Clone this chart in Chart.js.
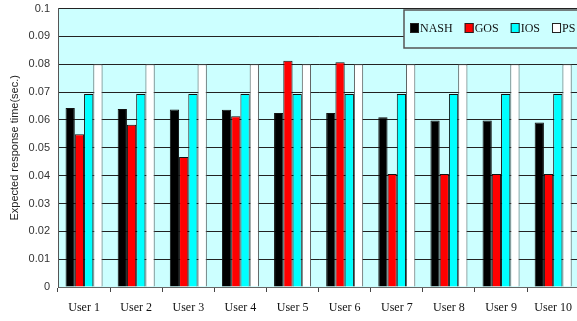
<!DOCTYPE html>
<html>
<head>
<meta charset="utf-8">
<script src="https://cdn.jsdelivr.net/npm/chart.js@4.4.1/dist/chart.umd.min.js"></script>
<style>
  html, body { margin: 0; padding: 0; background: #fff; overflow: hidden; }
  #wrap { width: 577px; height: 321px; overflow: hidden; position: relative; }
  #box { width: 581px; height: 321px; position: absolute; left: 0; top: 0; }
</style>
</head>
<body>
<div id="wrap"><div id="box"><canvas id="c"></canvas></div></div>
<script>
// Expected response time per user under the four schemes
const users = ['User 1', 'User 2', 'User 3', 'User 4', 'User 5', 'User 6', 'User 7', 'User 8', 'User 9', 'User 10'];
const schemes = ['NASH', 'GOS', 'IOS', 'PS'];
const nash = [0.0643, 0.0639, 0.0638, 0.0637, 0.0625, 0.0625, 0.0610, 0.0598, 0.0598, 0.0591];
const gos  = [0.0549, 0.0583, 0.0467, 0.0613, 0.0813, 0.0807, 0.0406, 0.0406, 0.0406, 0.0406];
const ios  = [0.0693, 0.0693, 0.0693, 0.0693, 0.0693, 0.0693, 0.0693, 0.0693, 0.0693, 0.0693];
const ps   = [0.0800, 0.0800, 0.0800, 0.0800, 0.0800, 0.0800, 0.0800, 0.0800, 0.0800, 0.0800];
const colours = ['#000000', '#ff0000', '#00ffff', '#ffffff'];

const plotBg = '#ccffff';
const serif = '"Liberation Serif", "Times New Roman", serif';
const sans = '"Liberation Sans", Arial, sans-serif';

// light cyan plot background
const plotBackground = {
  id: 'plotBackground',
  beforeDraw(chart) {
    const { ctx, chartArea: a } = chart;
    ctx.save();
    ctx.fillStyle = plotBg;
    ctx.fillRect(a.left, a.top, a.right - a.left, a.bottom - a.top);
    ctx.restore();
  }
};

// boxed legend sitting in the top-right corner of the plot
const boxLegend = {
  id: 'boxLegend',
  afterDraw(chart) {
    const { ctx } = chart;
    const x0 = 404, y0 = 10, h = 38;
    ctx.save();
    ctx.fillStyle = plotBg;
    ctx.fillRect(x0, y0, 200, h);
    ctx.strokeStyle = '#555';
    ctx.lineWidth = 1.5;
    ctx.strokeRect(x0, y0, 200, h);
    ctx.font = '12px ' + serif;
    ctx.textBaseline = 'middle';
    let x = 410;
    const cy = 28;
    chart.data.datasets.forEach((ds) => {
      ctx.fillStyle = ds.backgroundColor;
      ctx.fillRect(x, cy - 5, 9, 10);
      ctx.strokeStyle = '#222';
      ctx.lineWidth = 1;
      ctx.strokeRect(x + 0.5, cy - 4.5, 8, 9);
      ctx.fillStyle = '#111';
      ctx.fillText(ds.label, x + 10, cy + 1);
      x += 10 + ctx.measureText(ds.label).width + 12;
    });
    ctx.restore();
  }
};

const seriesValues = [nash, gos, ios, ps];

new Chart(document.getElementById('c'), {
  type: 'bar',
  data: {
    labels: users,
    datasets: schemes.map((name, i) => ({
      label: name,
      data: seriesValues[i],
      backgroundColor: colours[i],
      borderColor: i === 3 ? '#555' : '#111',
      borderWidth: 1,
      categoryPercentage: 0.71,
      barPercentage: 1.0
    }))
  },
  options: {
    responsive: true,
    maintainAspectRatio: false,
    animation: false,
    layout: { padding: { left: 0, right: 0, top: 2, bottom: 0 } },
    plugins: {
      legend: { display: false },
      tooltip: { enabled: false }
    },
    scales: {
      x: {
        offset: true,
        grid: {
          offset: true,
          drawOnChartArea: false,
          drawTicks: true,
          tickLength: 5,
          color: '#444'
        },
        border: { display: true, color: '#666', width: 1 },
        ticks: {
          padding: 9,
          color: '#111',
          font: { family: serif, size: 12 },
          maxRotation: 0,
          autoSkip: false
        },
        afterFit(scale) { scale.height = 34; }
      },
      y: {
        min: 0,
        max: 0.1,
        ticks: {
          stepSize: 0.01,
          padding: 2,
          color: '#333',
          font: { family: sans, size: 11 },
          callback: (v) => String(Number(v.toFixed(2)))
        },
        grid: {
          color: '#222',
          lineWidth: 1,
          drawTicks: true,
          tickLength: 6,
          tickColor: 'rgba(0,0,0,0)'
        },
        border: { display: true, color: '#555', width: 1 },
        title: {
          display: true,
          text: 'Expected response time(sec.)',
          color: '#222',
          font: { family: sans, size: 11 },
          padding: { top: 8, bottom: 0 }
        },
        afterFit(scale) { scale.width = 58; }
      }
    }
  },
  plugins: [plotBackground, boxLegend]
});
</script>
</body>
</html>
